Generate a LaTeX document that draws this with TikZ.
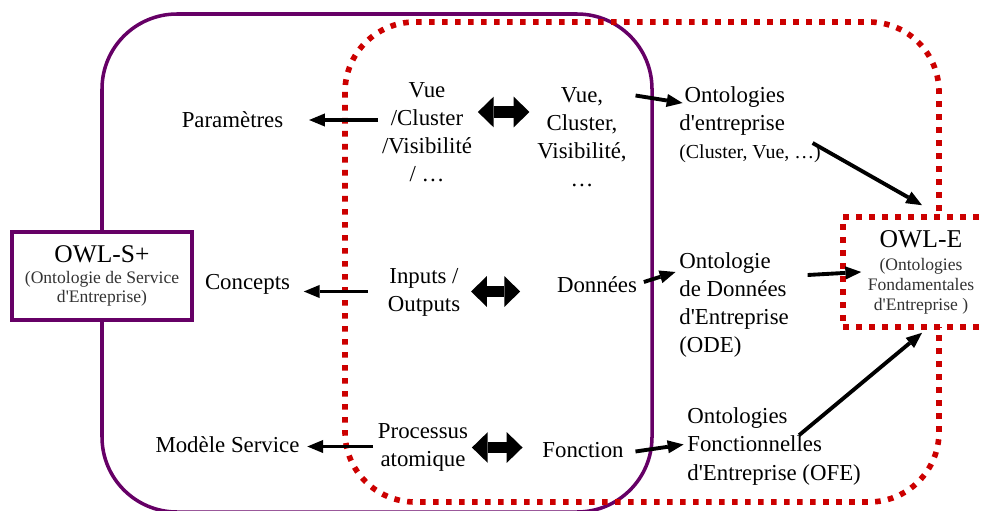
\documentclass[tikz,border=0pt]{standalone}
\usepackage{fontspec}
\setmainfont{Liberation Serif}[Ligatures=TeXOff]
\usetikzlibrary{arrows.meta, calc}
\definecolor{owlpurple}{RGB}{102,0,102}
\definecolor{owlred}{RGB}{204,0,0}

\begin{document}
\begin{tikzpicture}[
    x=0.02cm, y=-0.02cm,
    >={Triangle[length=9pt, width=7.5pt, line width=0pt]},
    font=\fontsize{13}{16}\selectfont,
    lbl/.style={inner sep=2pt, align=center},
    lblleft/.style={inner sep=2pt, align=left, anchor=west},
    purpleline/.style={draw=owlpurple, line width=2pt},
    redline/.style={
      draw=owlred, line width=3.2pt,
      dash pattern=on 3.2pt off 4.2pt
    },
    owlbox/.style={
      fill=white, align=center, inner sep=0pt,
      text=black!80, font=\fontsize{10}{11.3}\selectfont
    },
    arrow/.style={->, line width=2.2pt, black},
    dblarrow/.style={
      {Triangle[length=9pt, width=17.5pt, line width=0pt]}-{Triangle[length=9pt, width=17.5pt, line width=0pt]},
      line width=6.8pt, black
    }
  ]

    \useasboundingbox (0,0) rectangle (986,510);

    % --- Service area (purple) and enterprise area (red) ---
    \draw[purpleline, rounded corners=1.5cm] (102,14) rectangle (652,512);
    \draw[redline, rounded corners=1.4cm] (345,22) rectangle (939,502);

    % --- OWL-S+ ---
    \node[owlbox, purpleline, minimum width=3.6cm, minimum height=1.76cm] (owls) at (102,276)
    {\textcolor{black}{\fontsize{14.5}{17}\selectfont OWL-S+}\\[0.6pt]
     (Ontologie de Service\\
     d'Entreprise)};

    % --- OWL-E ---
    \node[owlbox, redline, minimum width=3.12cm, minimum height=2.2cm] (owle) at (921,272)
    {\textcolor{black}{\fontsize{14.6}{17}\selectfont OWL-E}\\[2pt]
     (Ontologies\\
     Fondamentales\\
     d'Entreprise )};

    % --- Left column ---
    \node[lbl] (param) at (232.5,120) {Paramètres};
    \node[lbl] (conc) at (247.5,284.5) {Concepts};
    \node[lbl] (mod) at (227.5,445) {Modèle Service};

    % --- Service side ---
    \node[lbl] (vue1) at (427,132) {Vue\\/Cluster\\/Visibilité\\/ …};
    \node[lbl] (inp) at (424,292.5) {Inputs /\\Outputs};
    \node[lbl] (proc) at (423,447.5) {Processus\\atomique};

    % --- Enterprise side ---
    \node[lbl] (vue2) at (582,137.5) {Vue,\\Cluster,\\Visibilité,\\…};
    \node[lbl] (don) at (597,285) {Données};
    \node[lbl] (fonc) at (583,450.5) {Fonction};

    % --- Enterprise ontologies ---
    \node[lblleft] (onte) at (675.5,125)
    {\hspace*{3pt}Ontologies\\
     d'entreprise\\
     {\fontsize{11.3}{13}\selectfont (Cluster, Vue, …)}};
    \node[lblleft] (ode) at (675.5,305)
    {Ontologie\\de Données\\d'Entreprise\\(ODE)};
    \node[lblleft] (ofe) at (683.5,446.5)
    {Ontologies\\Fonctionnelles\\d'Entreprise (OFE)};

    % --- Mapping to OWL-S+ ---
    \draw[arrow] (vue1.west |- param.east) -- ($(param.east)+(22,0)$);
    \draw[arrow] ($(inp.west)+(-16,-1)$) -- ($(inp.west -| conc.east)+(10,-1)$);
    \draw[arrow] ($(proc.west)+(-1,-1)$) -- ($(proc.west -| mod.east)+(4,-1)$);

    % --- Correspondences ---
    \draw[dblarrow] ($(vue1.east)+(2,-20)$) -- ($(vue1.east -| vue2.west)+(-4,-20)$);
    \draw[dblarrow] ($(inp.east)+(7,-1)$) -- ($(inp.east -| don.west)+(-33,-1)$);
    \draw[dblarrow] (proc.east) -- ($(proc.east -| fonc.west)+(-16,0)$);

    % --- To enterprise ontologies ---
    \draw[arrow] ($(vue2.east)+(5,-42)$) -- ($(onte.west)+(7,-22)$);
    \draw[arrow] ($(don.east)+(3,-3)$) -- ($(ode.west)+(0,-33)$);
    \draw[arrow] ($(fonc.east)+(8,1)$) -- ($(ofe.west)+(0,-2)$);

    % --- To OWL-E ---
    \draw[arrow] ($(onte.east)+(-12,18)$) -- ($(owle.north)+(1,-9)$);
    \draw[arrow] ($(ode.east)+(15,-30)$) -- ($(owle.west)+(21,0)$);
    \draw[arrow] ($(ofe.north)+(25,31)$) -- ($(owle.south)+(1,3)$);

  \end{tikzpicture}
\end{document}
